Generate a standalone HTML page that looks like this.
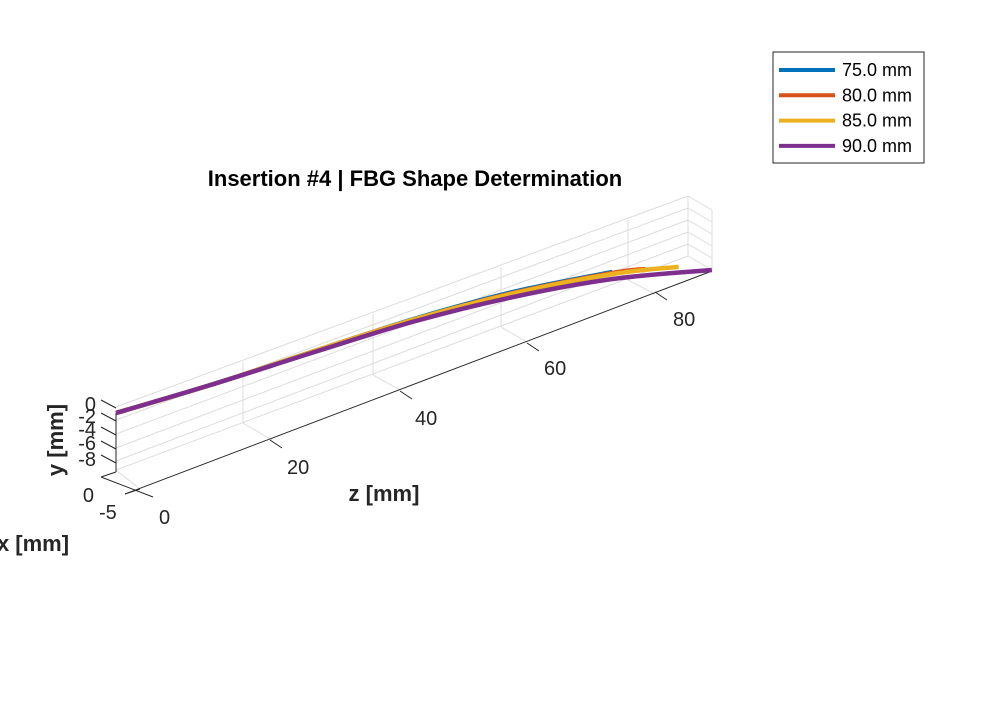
<!DOCTYPE html>
<html><head><meta charset="utf-8"><style>
body{margin:0;background:#fff;}
svg{display:block;font-family:"Liberation Sans",Arial,sans-serif;}
</style></head><body>
<svg width="1000" height="709" viewBox="0 0 1000 709">
<rect width="1000" height="709" fill="#fff"/>
<g id="grid" stroke="#dcdcdc" stroke-width="1" fill="none">
  <line x1="116" y1="407" x2="688" y2="196"/>
  <line x1="116" y1="420" x2="688" y2="208"/>
  <line x1="116" y1="434" x2="688" y2="220"/>
  <line x1="116" y1="448" x2="688" y2="232"/>
  <line x1="116" y1="461" x2="688" y2="244"/>
  <line x1="116" y1="470" x2="688" y2="256"/>
  <line x1="688" y1="196" x2="712" y2="210"/>
  <line x1="688" y1="208" x2="712" y2="222"/>
  <line x1="688" y1="220" x2="712" y2="234"/>
  <line x1="688" y1="232" x2="712" y2="246"/>
  <line x1="688" y1="244" x2="712" y2="258"/>
  <line x1="688" y1="256" x2="712" y2="270"/>
  <line x1="688" y1="196" x2="688" y2="256"/>
  <line x1="712" y1="210" x2="712" y2="270"/>
  <line x1="243" y1="362" x2="243" y2="423"/>
  <line x1="373" y1="314" x2="373" y2="375"/>
  <line x1="501" y1="267" x2="501" y2="327"/>
  <line x1="628" y1="220" x2="628" y2="280"/>
  <line x1="243" y1="423" x2="272" y2="440"/>
  <line x1="373" y1="375" x2="400" y2="390"/>
  <line x1="501" y1="327" x2="527" y2="342"/>
  <line x1="628" y1="280" x2="655" y2="294"/>
  <line x1="116" y1="470" x2="140" y2="489"/>
</g>
<g id="axes" stroke="#262626" stroke-width="1" fill="none">
  <line x1="116" y1="413" x2="116" y2="472"/>
  <line x1="101" y1="477" x2="153" y2="497"/>
  <line x1="125" y1="494" x2="712" y2="271"/>
  <line x1="101" y1="400" x2="116" y2="408"/>
  <line x1="101" y1="413" x2="116" y2="421"/>
  <line x1="101" y1="427" x2="116" y2="435"/>
  <line x1="101" y1="441" x2="116" y2="449"/>
  <line x1="101" y1="455" x2="116" y2="463"/>
  <line x1="101" y1="477" x2="116" y2="472"/>
  <line x1="125" y1="494" x2="140" y2="489"/>
  <line x1="270" y1="440" x2="282" y2="448"/>
  <line x1="400" y1="391" x2="412" y2="399"/>
  <line x1="527" y1="343" x2="539" y2="351"/>
  <line x1="655" y1="292" x2="667" y2="300"/>
</g>
<g font-size="20" fill="#262626">
  <text x="96" y="411" text-anchor="end">0</text>
  <text x="96" y="423" text-anchor="end">-2</text>
  <text x="96" y="436" text-anchor="end">-4</text>
  <text x="96" y="450" text-anchor="end">-6</text>
  <text x="96" y="466" text-anchor="end">-8</text>
  <text x="94" y="502" text-anchor="end">0</text>
  <text x="99" y="519">-5</text>
  <text x="159" y="524">0</text>
  <text x="287" y="474">20</text>
  <text x="415" y="425">40</text>
  <text x="544" y="375">60</text>
  <text x="673" y="326">80</text>
</g>
<g font-size="22" font-weight="bold" fill="#262626">
  <text transform="translate(63,440) rotate(-90)" text-anchor="middle">y [mm]</text>
  <text x="384" y="501" text-anchor="middle">z [mm]</text>
  <text x="33" y="551" text-anchor="middle">x [mm]</text>
</g>
<text x="415" y="186" font-size="22" font-weight="bold" fill="#000" text-anchor="middle">Insertion #4 | FBG Shape Determination</text>
<g id="series" fill="none" stroke-width="4.5" stroke-linejoin="round"></g>
<g>
  <rect x="773" y="52" width="151" height="111" fill="#fff" stroke="#262626" stroke-width="1"/>
  <g id="legend-items"></g>
</g>
</svg>
<script>
const seriesNames = ["75.0 mm","80.0 mm","85.0 mm","90.0 mm"];
const seriesColors = ["#0072BD","#D95319","#EDB120","#7E2F8E"];
const zBlue = [0,15,30,45,60,75];
const yBlue = [-0.91,-1.42,-1.47,-1.6,-2.48,-4.43];
const zOrange = [0,15,30,45,60,75,80];
const yOrange = [-0.91,-1.42,-1.47,-1.68,-2.63,-4.58,-5.65];
const zYellow = [0,15,30,45,60,75,85];
const yYellow = [-0.91,-1.42,-1.47,-1.68,-2.71,-4.73,-6.97];
const zPurple = [0,15,30,45,60,75,90];
const yPurple = [-0.91,-1.42,-1.62,-1.98,-3.24,-5.49,-9.1];

function px(z){ return 116 + 6.62*z; }
function py(z,y){ return 407 - 2.19*z - 6.6*y; }

const NS="http://www.w3.org/2000/svg";
const gS=document.getElementById('series');
const allZ=[zBlue,zOrange,zYellow,zPurple];
const allY=[yBlue,yOrange,yYellow,yPurple];
function pathFor(zs,ys){
  const pts=zs.map((z,i)=>[px(z),py(z,ys[i])]);
  let d="M"+pts[0][0].toFixed(1)+","+pts[0][1].toFixed(1);
  for(let i=0;i<pts.length-1;i++){
    const p0=pts[Math.max(0,i-1)],p1=pts[i],p2=pts[i+1],p3=pts[Math.min(pts.length-1,i+2)];
    const c1=[p1[0]+(p2[0]-p0[0])/6,p1[1]+(p2[1]-p0[1])/6];
    const c2=[p2[0]-(p3[0]-p1[0])/6,p2[1]-(p3[1]-p1[1])/6];
    d+=" C"+c1.map(v=>v.toFixed(1)).join(",")+" "+c2.map(v=>v.toFixed(1)).join(",")+" "+p2.map(v=>v.toFixed(1)).join(",");
  }
  return d;
}
for(let s=0;s<4;s++){
  const p=document.createElementNS(NS,'path');
  p.setAttribute('d',pathFor(allZ[s],allY[s]));
  p.setAttribute('stroke',seriesColors[s]);
  
  
  gS.appendChild(p);
}
const gL=document.getElementById('legend-items');
for(let s=0;s<4;s++){
  const yy=70+25.3*s;
  const l=document.createElementNS(NS,'line');
  l.setAttribute('x1',779);l.setAttribute('x2',835);
  l.setAttribute('y1',yy);l.setAttribute('y2',yy);
  l.setAttribute('stroke',seriesColors[s]);l.setAttribute('stroke-width',4);
  
  
  gL.appendChild(l);
  const t=document.createElementNS(NS,'text');
  t.setAttribute('x',842);t.setAttribute('y',yy+6);
  t.setAttribute('font-size',18);t.setAttribute('fill','#000');
  t.textContent=seriesNames[s];
  
  
  gL.appendChild(t);
}
</script>
</body></html>
